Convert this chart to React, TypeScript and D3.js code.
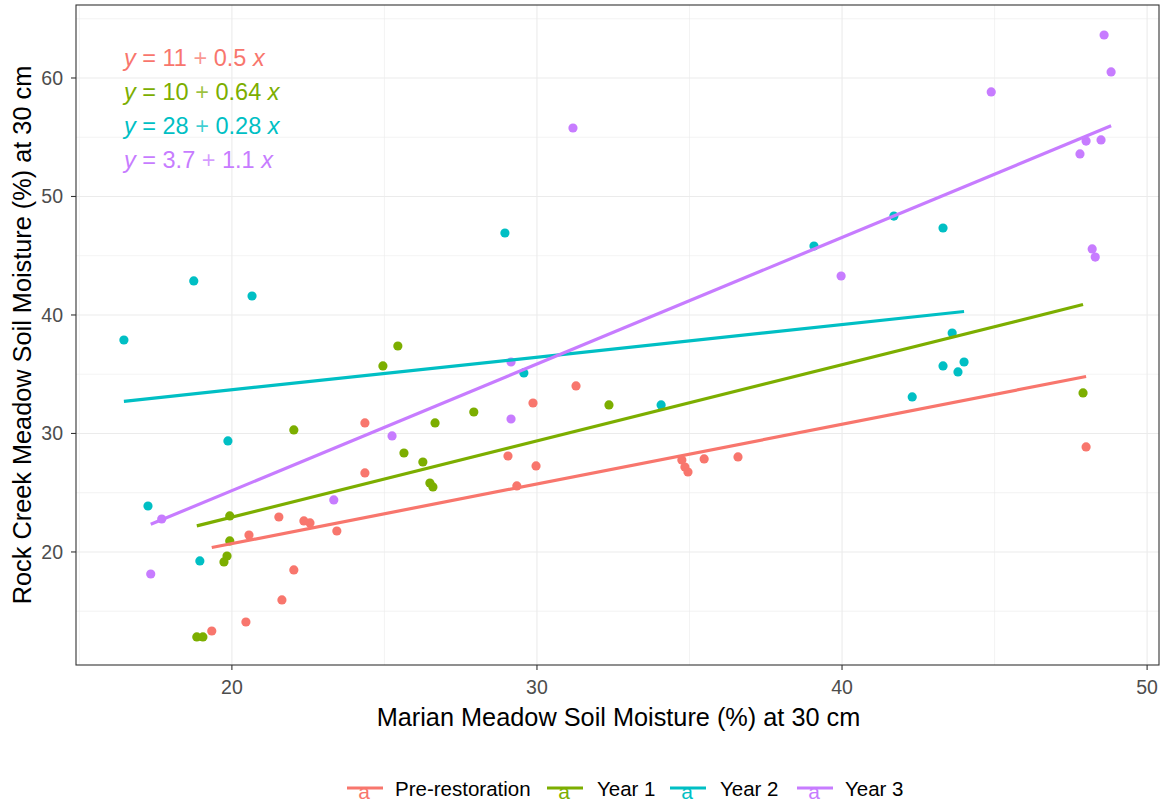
import React from "react";
import * as d3 from "d3";

const groups = ["Pre-restoration", "Year 1", "Year 2", "Year 3"];
const colors = ["#F8766D", "#7CAE00", "#00BFC4", "#C77CFF"];

const preX = [24.36, 24.36, 21.54, 22.36, 22.56, 23.44, 20.56, 22.03, 21.64, 20.46, 19.34, 29.87, 31.28, 29.05, 29.97, 29.34, 34.75, 34.85, 34.95, 35.48, 36.59, 48.0];
const preY = [30.89, 26.67, 22.95, 22.62, 22.45, 21.77, 21.43, 18.48, 15.95, 14.09, 13.33, 32.57, 34.01, 28.10, 27.26, 25.57, 27.76, 27.17, 26.75, 27.85, 28.02, 28.86];

const y1X = [25.44, 24.95, 22.03, 26.66, 25.64, 26.26, 26.49, 26.59, 19.93, 19.93, 19.84, 19.74, 18.85, 19.05, 27.93, 32.36, 47.9];
const y1Y = [37.38, 35.70, 30.30, 30.89, 28.35, 27.59, 25.82, 25.49, 23.04, 20.93, 19.66, 19.16, 12.83, 12.83, 31.81, 32.41, 33.42];

const y2X = [16.46, 18.75, 20.66, 19.87, 17.25, 18.95, 28.95, 29.57, 34.07, 39.08, 41.7, 43.31, 43.61, 43.31, 43.8, 44.0, 42.3];
const y2Y = [37.89, 42.87, 41.60, 29.37, 23.88, 19.24, 46.92, 35.11, 32.41, 45.82, 48.35, 47.34, 38.48, 35.70, 35.19, 36.03, 33.08];

const y3X = [17.7, 17.34, 23.34, 25.25, 29.15, 29.15, 31.18, 39.97, 44.89, 48.59, 48.82, 48.0, 48.49, 47.8, 48.2, 48.3];
const y3Y = [22.78, 18.14, 24.39, 29.79, 31.22, 36.03, 55.78, 43.29, 58.82, 63.63, 60.51, 54.68, 54.77, 53.59, 45.57, 44.89];

const eqIntercepts = ["11", "10", "28", "3.7"];
const eqSlopes = ["0.5", "0.64", "0.28", "1.1"];

const xTicks = [20, 30, 40, 50];
const yTicks = [20, 30, 40, 50, 60];
const xMinor = [15, 25, 35, 45];
const yMinor = [15, 25, 35, 45, 55, 65];

const xTitle = "Marian Meadow Soil Moisture (%) at 30 cm";
const yTitle = "Rock Creek Meadow Soil Moisture (%) at 30 cm";

const seriesX = [preX, y1X, y2X, y3X];
const seriesY = [preY, y1Y, y2Y, y3Y];

const W = 1161;
const H = 803;
const P = { left: 76, right: 1159, top: 5, bottom: 665 };
const FONT = "'Liberation Sans', Arial, sans-serif";

function fit(xs: number[], ys: number[]) {
  const mx = d3.mean(xs)!;
  const my = d3.mean(ys)!;
  let num = 0, den = 0;
  for (let i = 0; i < xs.length; i++) {
    num += (xs[i] - mx) * (ys[i] - my);
    den += (xs[i] - mx) ** 2;
  }
  const b = num / den;
  return { a: my - b * mx, b, x0: d3.min(xs)!, x1: d3.max(xs)! };
}

export default function App() {
  const x = d3.scaleLinear().domain([14.89, 50.39]).range([P.left, P.right]);
  const y = d3.scaleLinear().domain([10.46, 66.16]).range([P.bottom, P.top]);
  const line = d3.line<[number, number]>().x((d) => x(d[0])).y((d) => y(d[1]));

  const legendKeys = [347, 547, 670, 797];
  const legendText = [395, 597, 720, 845];

  return (
    <svg width={W} height={H} style={{ position: "absolute", left: 0, top: 0, background: "#fff" }} fontFamily={FONT}>
      <rect x={0} y={0} width={W} height={H} fill="#fff" />
      <defs>
        <clipPath id="panel">
          <rect x={P.left} y={P.top} width={P.right - P.left} height={P.bottom - P.top} />
        </clipPath>
      </defs>
      <g clipPath="url(#panel)">
        {xMinor.map((v) => (
          <line key={"xm" + v} x1={x(v)} x2={x(v)} y1={P.top} y2={P.bottom} stroke="#EBEBEB" strokeWidth={0.6} />
        ))}
        {yMinor.map((v) => (
          <line key={"ym" + v} x1={P.left} x2={P.right} y1={y(v)} y2={y(v)} stroke="#EBEBEB" strokeWidth={0.6} />
        ))}
        {xTicks.map((v) => (
          <line key={"xg" + v} x1={x(v)} x2={x(v)} y1={P.top} y2={P.bottom} stroke="#EBEBEB" strokeWidth={1.1} />
        ))}
        {yTicks.map((v) => (
          <line key={"yg" + v} x1={P.left} x2={P.right} y1={y(v)} y2={y(v)} stroke="#EBEBEB" strokeWidth={1.1} />
        ))}
        {seriesX.map((xs, gi) =>
          xs.map((xv, i) => (
            <circle key={gi + "-" + i} cx={x(xv)} cy={y(seriesY[gi][i])} r={4.6} fill={colors[gi]} />
          ))
        )}
        {seriesX.map((xs, gi) => {
          const f = fit(xs, seriesY[gi]);
          return (
            <path
              key={"l" + gi}
              d={line([[f.x0, f.a + f.b * f.x0], [f.x1, f.a + f.b * f.x1]])!}
              stroke={colors[gi]}
              strokeWidth={3.2}
              fill="none"
            />
          );
        })}
        {groups.map((g, gi) => (
          <text key={"eq" + gi} x={124} y={66 + gi * 34} fontSize={23.5} fill={colors[gi]} xmlSpace="preserve">
            <tspan fontStyle="italic">y</tspan>
            <tspan>{" = " + eqIntercepts[gi] + " "}</tspan>
            <tspan fillOpacity={0.75}>+</tspan>
            <tspan>{" " + eqSlopes[gi] + " "}</tspan>
            <tspan fontStyle="italic">x</tspan>
          </text>
        ))}
      </g>
      <rect x={P.left} y={P.top} width={P.right - P.left} height={P.bottom - P.top} fill="none" stroke="#333333" strokeWidth={1.1} />
      {xTicks.map((v) => (
        <g key={"xt" + v}>
          <line x1={x(v)} x2={x(v)} y1={P.bottom} y2={P.bottom + 5} stroke="#333333" strokeWidth={1.1} />
          <text x={x(v)} y={694} fontSize={19.5} fill="#4D4D4D" textAnchor="middle">{v}</text>
        </g>
      ))}
      {yTicks.map((v) => (
        <g key={"yt" + v}>
          <line x1={P.left - 5} x2={P.left} y1={y(v)} y2={y(v)} stroke="#333333" strokeWidth={1.1} />
          <text x={63} y={y(v) + 7} fontSize={19.5} fill="#4D4D4D" textAnchor="end">{v}</text>
        </g>
      ))}
      <text x={(P.left + P.right) / 2 + 1} y={726} fontSize={25.3} textAnchor="middle" fill="#000">{xTitle}</text>
      <text transform={`translate(31,${(P.top + P.bottom) / 2}) rotate(-90)`} fontSize={25.3} textAnchor="middle" fill="#000">{yTitle}</text>
      {groups.map((g, gi) => (
        <g key={"lg" + gi}>
          <line x1={legendKeys[gi]} x2={legendKeys[gi] + 36} y1={788} y2={788} stroke={colors[gi]} strokeWidth={3.2} />
          <text x={legendKeys[gi] + 17} y={799} fontSize={21} textAnchor="middle" fill={colors[gi]}>a</text>
          <text x={legendText[gi]} y={796} fontSize={20.5} fill="#000">{g}</text>
        </g>
      ))}
    </svg>
  );
}
